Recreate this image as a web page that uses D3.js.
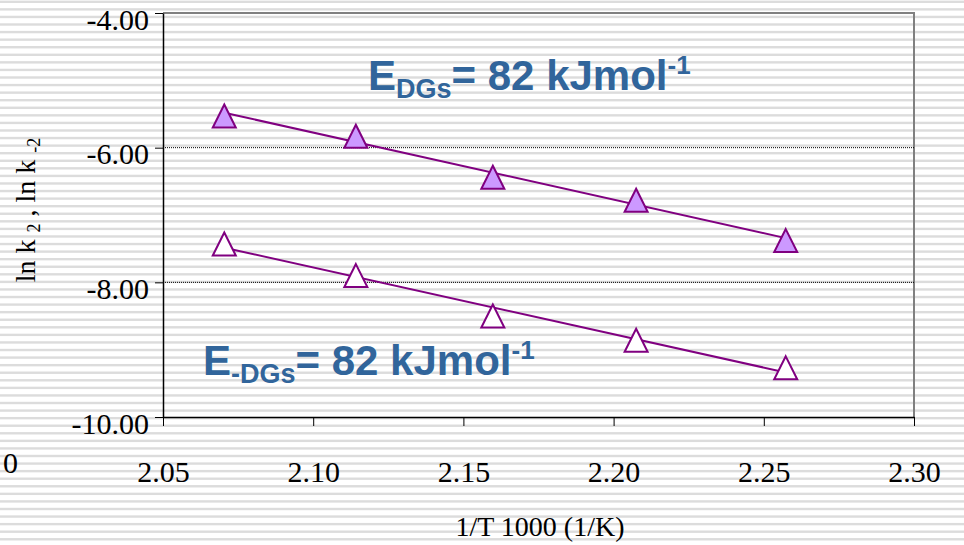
<!DOCTYPE html>
<html>
<head>
<meta charset="utf-8">
<script src="https://cdn.jsdelivr.net/npm/d3@7"></script>
<style>
  body { margin: 0; background: #fff; }
  svg { display: block; }
</style>
</head>
<body>
<div id="chart"></div>
<script>
// 1/T * 1000 (1/K)
var invT = [2.0704, 2.1142, 2.1598, 2.2075, 2.2573];
// ln k2 (filled) and ln k-2 (open)
var lnk2 = [-5.53, -5.83, -6.44, -6.78, -7.38];
var lnkm2 = [-7.43, -7.90, -8.50, -8.86, -9.27];
var xTicks = [2.05, 2.10, 2.15, 2.20, 2.25, 2.30];
var yTicks = [-10, -8, -6, -4];
var gridTicks = [-8, -6];

var width = 964, height = 545;
var plotLeft = 163, plotRight = 914, plotTop = 13, plotBottom = 417;
var purple = "#800080", blue = "#31659b";
var serif = "'Liberation Serif', 'Times New Roman', serif";

var svg = d3.select("#chart").append("svg")
    .attr("width", width)
    .attr("height", height);

// striped background
svg.selectAll(".stripe")
    .data(d3.range(0.6, height, 7.57))
    .enter().append("rect")
    .attr("class", "stripe")
    .attr("x", 0)
    .attr("y", function (d) { return d; })
    .attr("width", width)
    .attr("height", 2.4)
    .attr("fill", "#dcdcdc");

var x = d3.scaleLinear().domain([2.05, 2.30]).range([plotLeft, plotRight]);
var y = d3.scaleLinear().domain([-10, -4]).range([plotBottom, plotTop]);

// plain hyphen minus, like the original
var fmt = function (d) { return d.toFixed(2); };

// plot border (top / right)
svg.append("path")
    .attr("d", "M" + plotLeft + "," + plotTop + "H" + plotRight + "V" + plotBottom)
    .attr("fill", "none")
    .attr("stroke", "#808080")
    .attr("stroke-width", 2);

// dotted grid lines
svg.selectAll(".grid")
    .data(gridTicks)
    .enter().append("line")
    .attr("class", "grid")
    .attr("x1", plotLeft)
    .attr("x2", plotRight)
    .attr("y1", function (d) { return y(d); })
    .attr("y2", function (d) { return y(d); })
    .attr("stroke", "#000")
    .attr("stroke-width", 1)
    .attr("stroke-dasharray", "1,1");

var yAxis = d3.axisLeft(y)
    .tickValues(yTicks)
    .tickFormat(fmt)
    .tickSize(8)
    .tickSizeOuter(0);

var gy = svg.append("g")
    .attr("transform", "translate(" + plotLeft + ",0)")
    .call(yAxis);
gy.select(".domain").attr("stroke-width", 1.5);
gy.selectAll("text")
    .attr("x", -14)
    .attr("dy", 16)
    .style("font-family", serif)
    .style("font-size", "30px")
    .attr("fill", "#000");

var xAxis = d3.axisBottom(x)
    .tickValues(xTicks)
    .tickFormat(fmt)
    .tickSize(9)
    .tickSizeOuter(0);

var gx = svg.append("g")
    .attr("transform", "translate(0," + plotBottom + ")")
    .call(xAxis);
gx.select(".domain").attr("stroke-width", 1.5);
gx.selectAll("text")
    .attr("y", 65)
    .attr("dy", 0)
    .style("font-family", serif)
    .style("font-size", "30px")
    .attr("fill", "#000");

// stray "0" label at far left
svg.append("text")
    .attr("x", 3)
    .attr("y", 473)
    .style("font-family", serif)
    .style("font-size", "30px")
    .text("0");

// axis titles
svg.append("text")
    .attr("x", 540)
    .attr("y", 536)
    .attr("text-anchor", "middle")
    .style("font-family", serif)
    .style("font-size", "28px")
    .text("1/T 1000 (1/K)");

var yt = svg.append("text")
    .attr("transform", "translate(35,210) rotate(-90)")
    .attr("text-anchor", "middle")
    .style("font-family", serif)
    .style("font-size", "28px");
yt.append("tspan").text("ln k ");
yt.append("tspan").attr("dy", 5).style("font-size", "18px").text("2");
yt.append("tspan").attr("dy", -5).text(" , ln k ");
yt.append("tspan").attr("dy", 5).style("font-size", "18px").text("-2");

// linear trendlines (least squares)
function fit(xs, ys) {
    var mx = d3.mean(xs), my = d3.mean(ys);
    var num = d3.sum(xs, function (d, i) { return (d - mx) * (ys[i] - my); });
    var den = d3.sum(xs, function (d) { return (d - mx) * (d - mx); });
    var b = num / den;
    return function (v) { return my + b * (v - mx); };
}

var series = [
    { values: lnk2, fill: "#cc99ff" },
    { values: lnkm2, fill: "#ffffff" }
];

var line = d3.line()
    .x(function (d) { return x(d[0]); })
    .y(function (d) { return y(d[1]); });

series.forEach(function (s) {
    var f = fit(invT, s.values);
    var ends = d3.extent(invT);
    svg.append("path")
        .datum(ends.map(function (v) { return [v, f(v)]; }))
        .attr("d", line)
        .attr("fill", "none")
        .attr("stroke", purple)
        .attr("stroke-width", 2);
});

var tri = "M0,-11.5L11.5,11.5L-11.5,11.5Z";
series.forEach(function (s) {
    svg.selectAll(null)
        .data(invT.map(function (v, i) { return [v, s.values[i]]; }))
        .enter().append("path")
        .attr("d", tri)
        .attr("transform", function (d) { return "translate(" + x(d[0]) + "," + y(d[1]) + ")"; })
        .attr("fill", s.fill)
        .attr("stroke", purple)
        .attr("stroke-width", 2);
});

// activation energy labels
function energyLabel(px, py, sub) {
    var t = svg.append("text")
        .attr("x", px)
        .attr("y", py)
        .attr("fill", blue)
        .style("font-family", "'Liberation Sans', Arial, sans-serif")
        .style("font-weight", "bold")
        .style("font-size", "42px");
    t.append("tspan").text("E");
    t.append("tspan").attr("dy", 8).style("font-size", "27px").text(sub);
    t.append("tspan").attr("dy", -8).text("= 82 kJmol");
    t.append("tspan").attr("dy", -16).style("font-size", "26px").text("-1");
}
energyLabel(368, 90, "DGs");
energyLabel(203, 375, "-DGs");
</script>
</body>
</html>
